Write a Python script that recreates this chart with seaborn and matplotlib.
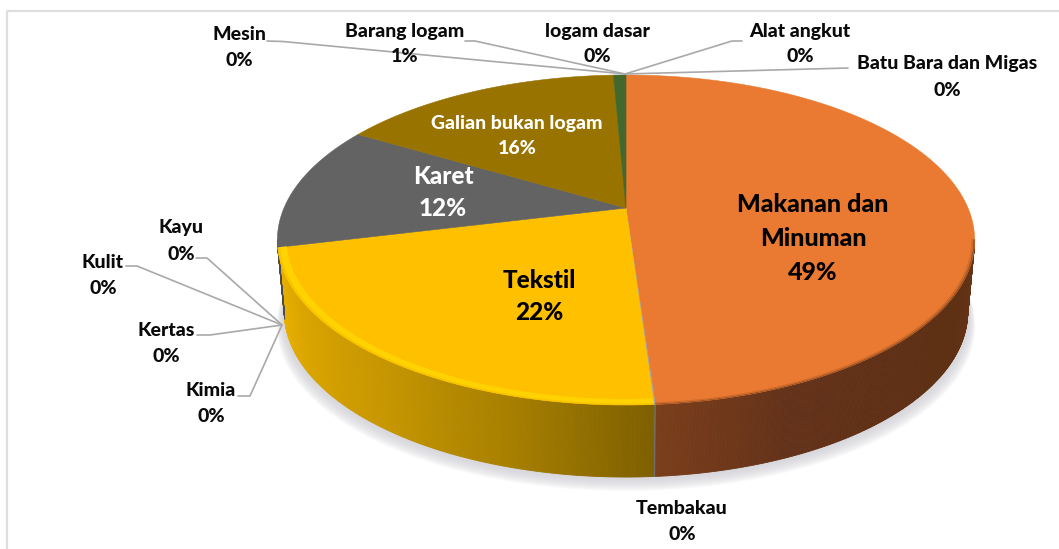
import numpy as np
import matplotlib
matplotlib.use("Agg")
import matplotlib.pyplot as plt
import seaborn as sns

# Slices, clockwise from the top of the pie
categories = ['Batu Bara dan Migas', 'Makanan dan Minuman', 'Tembakau', 'Tekstil', 'Kimia', 'Kertas',
              'Kulit', 'Kayu', 'Karet', 'Galian bukan logam', 'logam dasar', 'Barang logam', 'Mesin', 'Alat angkut']
shares = [0, 48.9, 0.05, 22.25, 0, 0, 0, 0, 12.3, 15.8, 0, 0.7, 0, 0]
slice_colors = ['#4472C4', '#EA7A31', '#A5A5A5', '#FFC000', '#5B9BD5', '#70AD47', '#264478',
                '#9E480E', '#636363', '#997300', '#255E91', '#43682B', '#698ED0', '#F1975A']

# Side wall colours, left to right along the visible rim
wall_colors = {
    'Karet': ['#4a4a4a', '#4a4a4a'],
    'Tekstil': ['#EDB400', '#D9A400', '#C69600', '#A88000', '#7F6000'],
    'Tembakau': ['#707070', '#707070'],
    'Makanan dan Minuman': ['#7A3E1A', '#64321A', '#5F3015', '#5E3014', '#663416'],
}
edge_colors = {'Tekstil': ['#F7C600', '#FFD200'], 'Makanan dan Minuman': ['#9C5224', '#D06C2C']}

# Layout in pixels of the 1059x549 picture
CX, CY = 626, 208
SX, SY, TILT = 342, 158.8, 0.194
DEPTH = 72
SHRINK = 0.98

label_pos = {
    'Mesin': (239, 35), 'Barang logam': (405, 31), 'logam dasar': (597, 31), 'Alat angkut': (800, 31),
    'Batu Bara dan Migas': (947, 64), 'Kayu': (181, 228), 'Kulit': (103, 262), 'Kertas': (166, 331),
    'Kimia': (211, 391), 'Tembakau': (682, 509),
}
leaders = [
    [(267, 41), (283, 41.5), (625, 74)],
    [(465, 41), (475, 41), (625, 74)],
    [(742, 41), (732, 41), (625, 74)],
    [(848, 68), (625, 74)],
    [(196, 258), (207, 258), (282, 325)],
    [(126, 266), (137, 266), (282, 325)],
    [(197, 335), (210, 335), (282, 325)],
    [(238, 396), (250, 396), (282, 325)],
]


def project(x, y):
    # tilted disc, near edge is bigger than the far edge
    w = 1 + TILT * y
    return CX + SX * x / w, CY - SY * y / w


def arc(t1, t2, r=1.0, n=120):
    t = np.radians(np.linspace(t1, t2, n))
    return project(r * np.cos(t), r * np.sin(t))


def lower(px, py):
    return CX + 1.5 + (px - CX - 1.5) * SHRINK, py + DEPTH


def front(t1, t2):
    # part of a wedge that faces the viewer
    lo = t1 % 360
    hi = lo + (t2 - t1)
    return max(lo, 191), min(hi, 349)


sns.set_theme(style="white")
plt.rcParams['font.family'] = ['Lato', 'DejaVu Sans']
plt.rcParams['font.weight'] = 900

fig = plt.figure(figsize=(10.59, 5.49), dpi=100)
ax = fig.add_axes([0, 0, 1, 1])

# pie works out the wedge angles, they get redrawn on the tilted disc
wedges, _ = ax.pie(shares, startangle=90, counterclock=False, colors=slice_colors)
angles = [(w.theta1, w.theta2) for w in wedges]
for w in wedges:
    w.remove()
ax.set_aspect('auto')
ax.set_xlim(0, 1059)
ax.set_ylim(549, 0)
ax.axis('off')

# frame
ax.plot([7, 7, 1059], [549, 11, 11], color='#DEDEDE', lw=1.6, zorder=1)

# soft shadow
sx, sy = lower(*arc(0, 360))
for i in range(14):
    grow = 1 + 0.0016 * (14 - i)
    ax.fill(CX + (sx - CX) * grow, sy + 1.0 * (14 - i), color='#D0D0D6', alpha=0.10, lw=0, zorder=2)

# side wall
for name, color, (t1, t2) in zip(categories, slice_colors, angles):
    if name not in wall_colors:
        continue
    lo, hi = front(t1, t2)
    if hi <= lo:
        continue
    n = int((hi - lo) * 3) + 2
    pal = sns.blend_palette(wall_colors[name], n)
    edges = np.linspace(lo, hi, n + 1)
    for i in range(n):
        tx, ty = arc(edges[i], edges[i + 1], n=4)
        bx, by = lower(tx, ty)
        ax.fill(np.r_[tx, bx[::-1]], np.r_[ty, by[::-1]], color=pal[i], lw=0.6, zorder=3)

# top face
vx, vy = project(0, 0)
for name, color, (t1, t2) in zip(categories, slice_colors, angles):
    if t2 - t1 < 0.01:
        continue
    fx, fy = arc(t1, t2)
    ax.fill(np.r_[vx, fx], np.r_[vy, fy], color=color, lw=0.4, zorder=4)

# bevel along the front edge
for name, color, (t1, t2) in zip(categories, slice_colors, angles):
    if name not in edge_colors:
        continue
    lo, hi = front(t1, t2)
    radii = [1.0, 0.994, 0.975] if name == 'Tekstil' else [1.0, 0.996, 0.991]
    for j in range(2):
        ox, oy = arc(lo, hi, r=radii[j])
        ix, iy = arc(lo, hi, r=radii[j + 1])
        ax.fill(np.r_[ox, ix[::-1]], np.r_[oy, iy[::-1]], color=edge_colors[name][j], lw=0, zorder=5)

# leader lines
for line in leaders:
    ax.plot(*zip(*line), color='#A9A9A9', lw=1.2, zorder=6)

# outside labels
for name, share in zip(categories, shares):
    if name in label_pos:
        x, y = label_pos[name]
        ax.text(x, y, name, ha='center', va='center', fontsize=14, color='#0a0a0a', zorder=7)
        ax.text(x, y + 26, f'{share:.0f}%', ha='center', va='center', fontsize=14, color='#0a0a0a', zorder=7)

# labels on the big slices
by_name = dict(zip(categories, shares))
ax.text(517, 123, 'Galian bukan logam', ha='center', va='center', fontsize=14, color='white', zorder=7)
ax.text(517, 149, f"{by_name['Galian bukan logam']:.0f}%", ha='center', va='center', fontsize=14, color='white', zorder=7)
ax.text(443, 177, 'Karet', ha='center', va='center', fontsize=17.5, color='white', zorder=7)
ax.text(443, 209, f"{by_name['Karet']:.0f}%", ha='center', va='center', fontsize=17.5, color='white', zorder=7)
ax.text(539, 280, 'Tekstil', ha='center', va='center', fontsize=17.5, color='black', zorder=7)
ax.text(539, 312, f"{by_name['Tekstil']:.0f}%", ha='center', va='center', fontsize=17.5, color='black', zorder=7)
ax.text(813, 205, 'Makanan dan', ha='center', va='center', fontsize=18, color='black', zorder=7)
ax.text(813, 238, 'Minuman', ha='center', va='center', fontsize=18, color='black', zorder=7)
ax.text(813, 272, f"{by_name['Makanan dan Minuman']:.0f}%", ha='center', va='center', fontsize=18, color='black', zorder=7)

fig.savefig('out.png', dpi=100, facecolor='white')
